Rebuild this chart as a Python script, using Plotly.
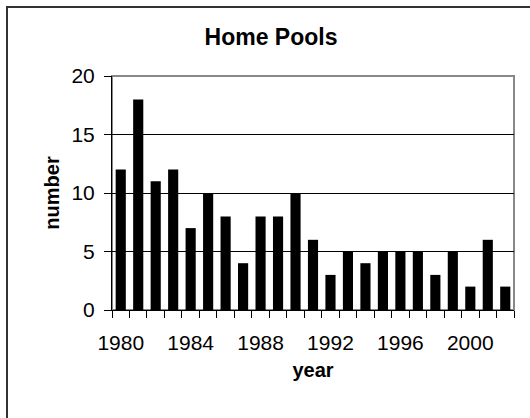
import plotly.graph_objects as go

years = list(range(1980, 2003))
counts = [12, 18, 11, 12, 7, 10, 8, 4, 8, 8, 10, 6, 3, 5, 4, 5, 5, 5, 3, 5, 2, 6, 2]
year_ticks = [1980, 1984, 1988, 1992, 1996, 2000]
y_ticks = [0, 5, 10, 15, 20]

FONT = "Liberation Sans, Arial, sans-serif"

fig = go.Figure(
    go.Bar(x=years, y=counts, width=0.58, marker_color="black", marker_line_width=0)
)

fig.update_layout(
    width=530,
    height=418,
    margin=dict(l=112, r=16, t=76, b=108),
    paper_bgcolor="white",
    plot_bgcolor="white",
    showlegend=False,
    font=dict(family=FONT, size=21, color="black"),
    title=dict(
        text="<b>Home Pools</b>",
        x=271 / 530,
        xanchor="center",
        y=1 - 37 / 418,
        yanchor="middle",
        font=dict(size=23),
    ),
)

fig.update_xaxes(
    range=[1979.5, 2002.5],
    tickmode="array",
    tickvals=year_ticks,
    ticks="outside",
    ticklen=0,
    showline=True,
    linecolor="black",
    linewidth=1,
    showgrid=False,
    zeroline=False,
    ticklabelstandoff=14,
    minor=dict(
        tickmode="linear",
        tick0=1979.5,
        dtick=1,
        ticklen=7,
        tickcolor="black",
        showgrid=False,
    ),
    title=dict(text="<b>year</b>", font=dict(size=20), standoff=9),
)

fig.update_yaxes(
    range=[0, 20],
    tickmode="array",
    tickvals=y_ticks,
    ticks="outside",
    ticklen=7,
    tickcolor="black",
    showline=True,
    linecolor="black",
    linewidth=1,
    showgrid=True,
    gridcolor="black",
    gridwidth=1,
    zeroline=False,
    ticklabelstandoff=5,
    title=dict(text="<b>number</b>", font=dict(size=20), standoff=6),
)

# plot area frame (gray top/right) and outer chart frame
fig.add_shape(
    type="rect", xref="paper", yref="paper", x0=0, x1=1, y0=0, y1=1,
    line=dict(color="#888888", width=2), layer="below",
)
fig.add_shape(
    type="rect", xref="paper", yref="paper",
    x0=(7 - 112) / 402, x1=(540 - 112) / 402,
    y0=(310 - 430) / 234, y1=(310 - 7) / 234,
    line=dict(color="#333333", width=2),
)

fig.write_html(
    "out.html",
    config={"displayModeBar": False},
    post_script="document.body.style.margin='0';",
)
